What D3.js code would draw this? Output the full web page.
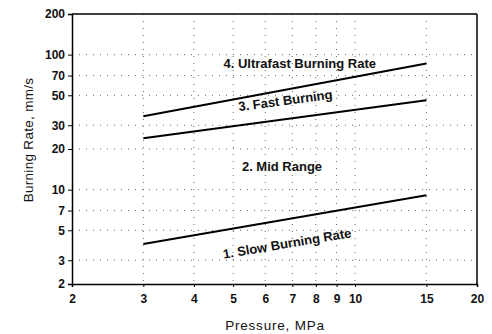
<!DOCTYPE html>
<html><head><meta charset="utf-8">
<script src="https://cdn.jsdelivr.net/npm/d3@7"></script>
<style>body{margin:0;background:#fff}svg{display:block}text{font-family:Arial,"Liberation Sans",sans-serif}</style>
</head><body><svg id="c" width="492" height="334"></svg>
<script>
const xTicks=[2,3,4,5,6,7,8,9,10,15,20];
const yTicks=[2,3,5,7,10,20,30,50,70,100,200];
const xGrid=[3,4,5,6,7,8,9,10,15];
const yGrid=[3,5,7,10,20,30,50,70,100];
const pressure=[3,15];
const slowRate=[3.95,9.1];
const fastRate=[24,46];
const ultraRate=[35,86];
const regionLabels=["1. Slow Burning Rate","2. Mid Range","3. Fast Burning","4. Ultrafast Burning Rate"];

const svg=d3.select("#c");
const L=72,R=477,T=14,B=284;
const x=d3.scaleLog().domain([2,20]).range([L,R]);
const y=d3.scaleLog().domain([2,200]).range([B,T]);

// grid
svg.append("g").selectAll("line").data(xGrid).join("line")
 .attr("x1",d=>x(d)).attr("x2",d=>x(d)).attr("y1",T).attr("y2",B)
 .attr("stroke","#666").attr("stroke-width",1).attr("stroke-dasharray","1,6");
svg.append("g").selectAll("line").data(yGrid).join("line")
 .attr("x1",L).attr("x2",R).attr("y1",d=>y(d)).attr("y2",d=>y(d))
 .attr("stroke","#666").attr("stroke-width",1).attr("stroke-dasharray","1,6");

// axes
const xa=svg.append("g").attr("transform",`translate(0,${B})`)
 .call(d3.axisBottom(x).tickValues(xTicks).tickFormat(d3.format("d")).tickSize(3).tickPadding(7));
const ya=svg.append("g").attr("transform",`translate(${L},0)`)
 .call(d3.axisLeft(y).tickValues(yTicks).tickFormat(d3.format("d")).tickSize(4).tickPadding(3));
[xa,ya].forEach(a=>{a.select(".domain").attr("stroke","#000").attr("stroke-width",1.5);
 a.selectAll("text").attr("font-size",12).attr("font-weight","bold").attr("fill","#111");
 a.selectAll(".tick line").attr("stroke","#000");});
// frame top/right
svg.append("line").attr("x1",L).attr("x2",R).attr("y1",T).attr("y2",T).attr("stroke","#000").attr("stroke-width",1.5);
svg.append("line").attr("x1",R).attr("x2",R).attr("y1",T).attr("y2",B).attr("stroke","#000").attr("stroke-width",1.5);

// lines
const line=d3.line().x(d=>x(d[0])).y(d=>y(d[1]));
[slowRate,fastRate,ultraRate].forEach(s=>{
 svg.append("path").datum(pressure.map((p,i)=>[p,s[i]])).attr("d",line)
  .attr("fill","none").attr("stroke","#000").attr("stroke-width",2);
});

// labels
const lab=(t,cx,cy,rot)=>svg.append("text").text(t).attr("text-anchor","middle")
 .attr("transform",`translate(${cx},${cy}) rotate(${rot})`).attr("font-size",13).attr("font-weight","bold").attr("fill","#111");
lab(regionLabels[3],x(7.3),y(80),0);
lab(regionLabels[2],x(6.75),y(42.4),-7.5);
lab(regionLabels[1],x(6.6),y(13.8),0);
lab(regionLabels[0],x(6.82),y(3.7),-9.5);

// axis titles
svg.append("text").text("Pressure, MPa").attr("x",275).attr("y",330).attr("text-anchor","middle")
 .attr("font-size",13.5).attr("letter-spacing",0.8).attr("fill","#111");
svg.append("text").text("Burning Rate, mm/s").attr("transform",`translate(33,140) rotate(-90)`)
 .attr("text-anchor","middle").attr("font-size",13.5).attr("letter-spacing",0.3).attr("fill","#111");
</script></body></html>
